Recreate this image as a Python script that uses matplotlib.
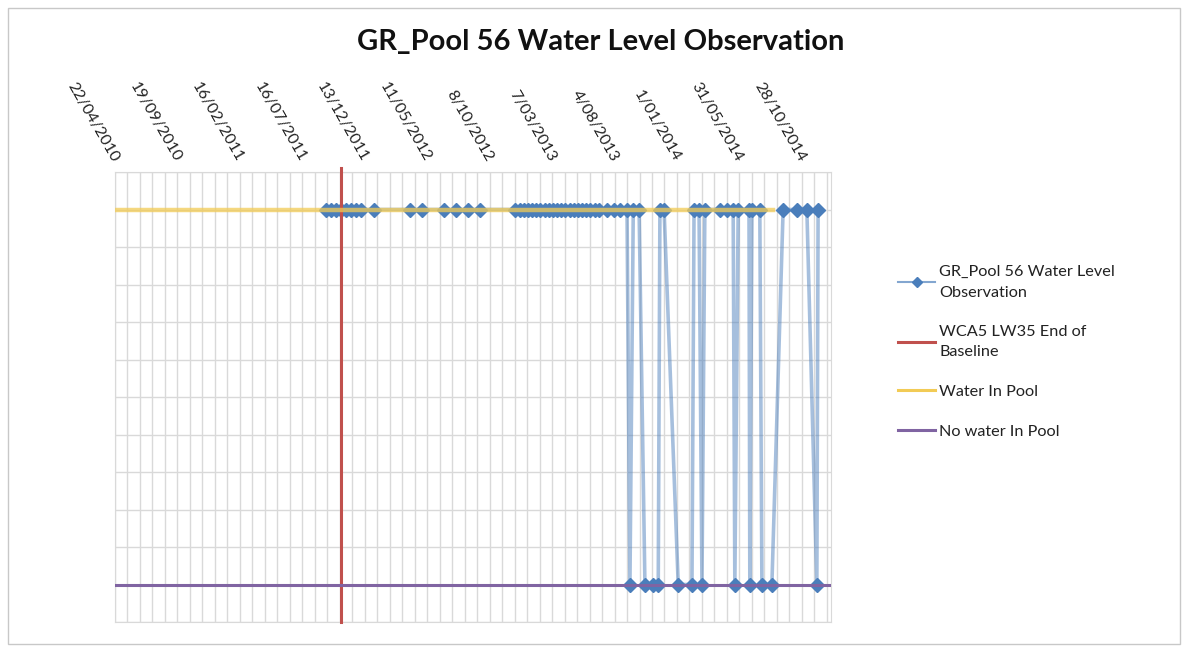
import matplotlib
matplotlib.use("Agg")
import matplotlib.pyplot as plt
from matplotlib.lines import Line2D
from matplotlib.patches import Rectangle
import pandas as pd

# observation dates (d/m/Y) and state: 1 = water in pool, 0 = no water
obs_dates = [
    "10/09/2011", "22/09/2011", "04/10/2011", "16/10/2011", "28/10/2011",
    "09/11/2011", "21/11/2011", "03/12/2011", "04/01/2012", "30/03/2012",
    "28/04/2012", "20/06/2012", "18/07/2012", "16/08/2012", "16/09/2012",
    "09/12/2012", "19/12/2012", "29/12/2012", "08/01/2013", "18/01/2013",
    "28/01/2013", "07/02/2013", "17/02/2013", "27/02/2013", "09/03/2013",
    "19/03/2013", "29/03/2013", "08/04/2013", "18/04/2013", "28/04/2013",
    "08/05/2013", "18/05/2013", "28/05/2013", "07/06/2013", "17/06/2013",
    "27/06/2013", "18/07/2013", "02/08/2013", "17/08/2013", "03/09/2013",
    "10/09/2013", "18/09/2013", "02/10/2013", "16/10/2013", "05/11/2013",
    "17/11/2013", "21/11/2013", "01/12/2013", "04/01/2014", "06/02/2014",
    "11/02/2014", "23/02/2014", "02/03/2014", "09/03/2014", "14/04/2014",
    "01/05/2014", "16/05/2014", "20/05/2014", "28/05/2014", "23/06/2014",
    "25/06/2014", "30/06/2014", "19/07/2014", "24/07/2014", "17/08/2014",
    "13/09/2014", "16/10/2014", "09/11/2014", "03/12/2014", "06/12/2014",
]
obs_level = [
    1, 1, 1, 1, 1, 1, 1, 1, 1, 1,
    1, 1, 1, 1, 1,
    1, 1, 1, 1, 1, 1, 1, 1, 1, 1, 1, 1, 1, 1, 1, 1, 1, 1, 1, 1, 1,
    1, 1, 1, 1,
    0, 1, 1, 0, 0, 0, 1, 1, 0, 0,
    1, 1, 0, 1, 1, 1, 1, 0, 1, 1,
    0, 1, 1, 0, 0,
    1, 1, 1, 0, 1,
]

baseline_end = "16/10/2011"
water_line = ["22/04/2010", "20/08/2014"]
no_water_line = ["22/04/2010", "10/01/2015"]

tick_dates = ["22/04/2010", "19/09/2010", "16/02/2011", "16/07/2011",
              "13/12/2011", "11/05/2012", "8/10/2012", "7/03/2013",
              "4/08/2013", "1/01/2014", "31/05/2014", "28/10/2014"]

x_start = pd.Timestamp("2010-04-22")
x_end = pd.Timestamp("2015-01-06")

FONT = ["Lato", "DejaVu Sans"]
plt.rcParams["font.family"] = FONT

blue = "#4F81BD"
red = "#C0504D"
yellow = "#F2CB55"
purple = "#8064A2"
grid_c = "#D9D9D9"

d_obs = pd.to_datetime(obs_dates, dayfirst=True)

fig = plt.figure(figsize=(11.87, 6.5), dpi=100)
ax = fig.add_axes([115 / 1187, 1 - 622 / 650, (831 - 115) / 1187, (622 - 172) / 650])

ax.plot(d_obs, obs_level, color=(0.31, 0.506, 0.741, 0.5), lw=2.6,
        marker="D", ms=7.5, mfc="#4A7EBB", mec="#4A7EBB", zorder=3)
ax.axvline(pd.to_datetime(baseline_end, dayfirst=True), ymin=0, ymax=1.01,
           color=red, lw=2.2, zorder=4, clip_on=False)
ax.plot(pd.to_datetime(water_line, dayfirst=True), [1, 1],
        color=yellow, lw=3.2, alpha=0.75, zorder=5)
ax.plot(pd.to_datetime(no_water_line, dayfirst=True), [0, 0],
        color=purple, lw=2.2, zorder=5)

ax.set_xlim(x_start, x_end)
ax.set_ylim(-0.1, 1.1)

ticks = pd.to_datetime(tick_dates, dayfirst=True)
ax.set_xticks(ticks, tick_dates, rotation=-60, ha="right", va="center",
              rotation_mode="anchor", fontsize=11.5, color="#222222")
ax.set_xticks(pd.date_range(x_start, x_end, freq="30D"), minor=True)
ax.xaxis.tick_top()
ax.tick_params(axis="x", which="both", length=0, pad=8)
ax.set_yticks([i / 10 for i in range(-1, 12)])
ax.tick_params(axis="y", length=0, labelleft=False)
ax.grid(True, which="both", color=grid_c, lw=1, zorder=0)
ax.set_axisbelow(True)
for s in ax.spines.values():
    s.set_color(grid_c)

fig.text(601 / 1187, 1 - 42 / 650, "GR_Pool 56 Water Level Observation",
         ha="center", va="center", fontsize=21, fontweight="bold", color="#111111")

handles = [
    Line2D([], [], color=(0.31, 0.506, 0.741, 0.7), lw=1.5, marker="D", ms=5,
           mfc="#4A7EBB", mec="#4A7EBB"),
    Line2D([], [], color=red, lw=2.2),
    Line2D([], [], color=yellow, lw=2.2),
    Line2D([], [], color=purple, lw=2.2),
]
labels = ["GR_Pool 56 Water Level\nObservation", "WCA5 LW35 End of\nBaseline",
          "Water In Pool", "No water In Pool"]
leg = fig.legend(handles, labels, loc="upper left",
                 bbox_to_anchor=(898 / 1187, 1 - 265 / 650),
                 frameon=False, fontsize=11.7, handlelength=2.3, handletextpad=0.25,
                 labelspacing=1.55, borderpad=0, borderaxespad=0,
                 labelcolor="#222222")
for t in leg.get_texts():
    t.set_linespacing(1.6)

fig.patches.append(Rectangle((8 / 1187, 6 / 650), 1172 / 1187, 636 / 650,
                             transform=fig.transFigure, fill=False,
                             edgecolor="#C8C8C8", lw=1))

fig.savefig("out.png", dpi=100)
